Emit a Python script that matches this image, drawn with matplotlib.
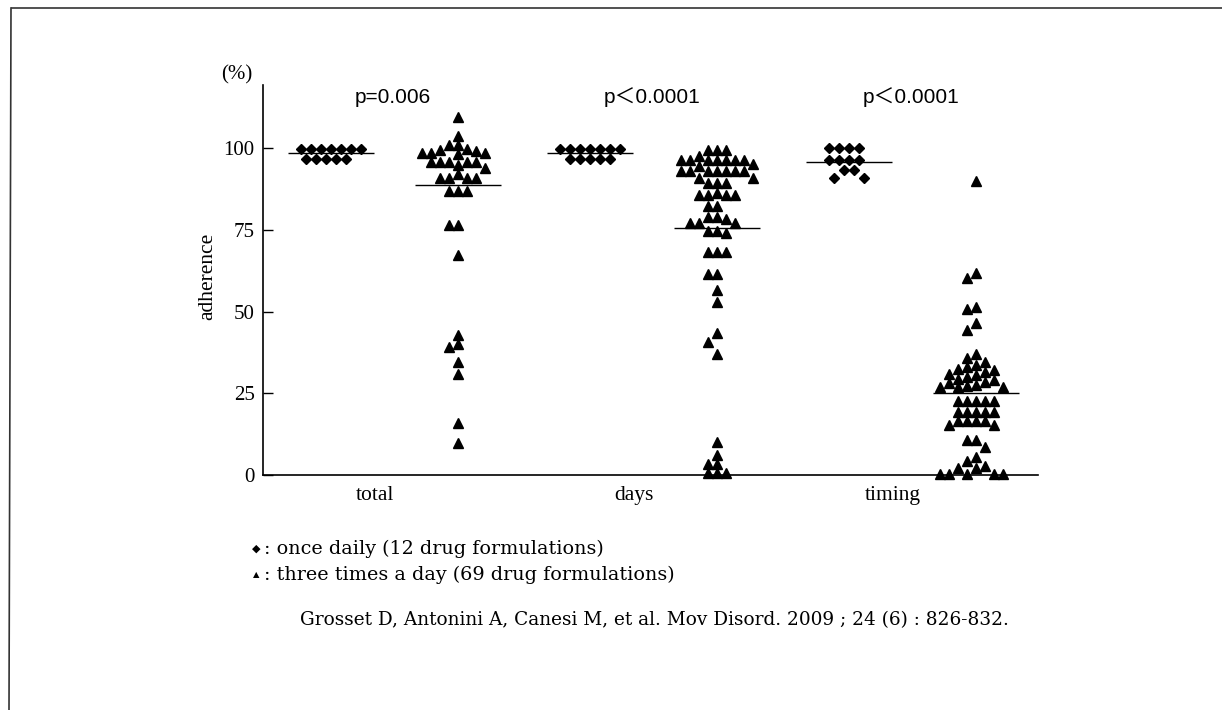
import numpy as np
import matplotlib
matplotlib.use("Agg")
import matplotlib.pyplot as plt
from matplotlib.lines import Line2D

categories = ["total", "days", "timing"]
p_labels = ["p=0.006", "p\uff1c0.0001", "p\uff1c0.0001"]

# once daily (12 drug formulations)
once_total = [99.6, 99.6, 99.6, 99.6, 99.6, 99.6, 99.6, 96.6, 96.6, 96.6, 96.6, 96.6]
once_days = [99.8, 99.8, 99.8, 99.8, 99.8, 99.8, 99.8, 96.6, 96.6, 96.6, 96.6, 96.6]
once_timing = [99.9, 99.9, 99.9, 99.9, 96.3, 96.3, 96.3, 96.3, 93.3, 93.3, 90.7, 90.7]

# three times a day (69 drug formulations)
tid_total = [109.4, 103.7, 100.9, 100.9, 99.5, 98.6, 99.8, 98.6, 98.6, 99.2, 98.2,
             95.8, 95.8, 95.8, 95.8, 95.8, 94.8, 93.8, 92.0, 90.7, 90.7, 90.7, 90.7,
             86.9, 86.9, 86.9, 76.5, 76.5, 67.3, 42.8, 40.1, 39.3, 34.6, 30.9, 16.0, 9.9]
tid_days = [99.4, 99.4, 99.4, 97.5, 96.3, 96.3, 96.3, 96.3, 96.3, 96.3, 96.3, 95.0,
            94.5, 93.1, 93.1, 93.1, 93.1, 93.1, 93.1, 93.1, 90.7, 90.7, 89.2, 89.2, 89.2,
            86.3, 85.6, 85.6, 85.6, 85.6, 82.3, 82.3, 78.8, 78.8, 78.2, 77.0, 77.0, 77.0,
            74.7, 74.7, 74.0, 68.1, 68.1, 68.1, 61.5, 61.5, 56.6, 53.0, 43.3, 40.8, 37.0,
            10.2, 6.1, 3.3, 3.3, 0.5, 0.5, 0.5]
tid_timing = [89.9, 61.9, 60.4, 51.3, 50.7, 46.6, 44.3, 37.0, 35.7, 34.5, 33.6, 33.0,
              32.5, 32.0, 31.5, 31.0, 30.5, 30.0, 29.5, 29.0, 28.5, 28.0, 27.5, 27.2,
              27.0, 27.0, 26.8, 22.6, 22.6, 22.6, 22.6, 22.6, 19.4, 19.4, 19.4, 19.4,
              19.4, 16.6, 16.6, 16.6, 16.6, 15.3, 15.3, 10.7, 10.7, 8.7, 5.4, 4.3, 2.8,
              2.0, 2.0, 0.2, 0.2, 0.2, 0.2, 0.2]

once_means = [98.6, 98.6, 95.8]
tid_means = [88.7, 75.6, 25.1]

once_groups = [once_total, once_days, once_timing]
tid_groups = [tid_total, tid_days, tid_timing]

serif = "Liberation Serif"
wide_serif = "DejaVu Serif"
sans = ["Liberation Sans", "Noto Sans CJK JP"]

fig = plt.figure(figsize=(12.22, 7.10), dpi=100)
ax = fig.add_axes([263 / 1222, 1 - 475 / 710, 775 / 1222, 390 / 710])
ax.set_xlim(-0.432, 2.56)
ax.set_ylim(0, 119.3)

# pixel scales of the axes, used to lay out the dot swarms
bbox = ax.get_window_extent()
px_x = bbox.width / (2.56 + 0.432)
px_y = bbox.height / 119.3


def swarm(vals, step, gap):
    vals = np.asarray(vals, dtype=float)
    placed = []
    offs = np.zeros(len(vals))
    cands = [0] + [s * j for j in range(1, 30) for s in (-1, 1)]
    for i in np.argsort(-vals, kind="stable"):
        y = vals[i] * px_y
        for c in cands:
            x = c * step
            if all((x - a) ** 2 + (y - b) ** 2 >= gap ** 2 for a, b in placed):
                break
        placed.append((x, y))
        offs[i] = x
    return offs / px_x


for i in range(len(categories)):
    xo = i - 0.17
    xt = i + 0.32
    ov = once_groups[i]
    tv = tid_groups[i]
    ax.plot(xo + swarm(ov, 5, 10), ov, linestyle="none", marker="D", ms=5.6,
            color="black", clip_on=False, zorder=3)
    ax.plot(xt + swarm(tv, 9, 8.5), tv, linestyle="none", marker="^", ms=7.5,
            color="black", clip_on=False, zorder=3)
    ax.hlines(once_means[i], xo - 0.166, xo + 0.166, color="black", lw=1, zorder=2)
    ax.hlines(tid_means[i], xt - 0.166, xt + 0.166, color="black", lw=1, zorder=2)
    ax.text(i + 0.07, 115.5, p_labels[i], ha="center", va="center", fontsize=15,
            family=sans)

for side in ["top", "right"]:
    ax.spines[side].set_visible(False)
for side in ["left", "bottom"]:
    ax.spines[side].set_linewidth(1.2)

ax.set_yticks([0, 25, 50, 75, 100])
ax.set_xticks(range(len(categories)))
ax.set_xticklabels(categories)
ax.tick_params(axis="y", direction="in", length=7, width=1, pad=6, labelsize=15)
ax.tick_params(axis="x", length=0, pad=8, labelsize=15.5)
for lab in ax.get_xticklabels() + ax.get_yticklabels():
    lab.set_family(serif)

fig.text(237 / 1222, 1 - 75 / 710, "(%)", ha="center", va="center", fontsize=15,
         family=serif)
fig.text(208 / 1222, 1 - 276 / 710, "adherence", ha="center", va="center",
         rotation=90, fontsize=15.5, family=serif)

# legend
fig.text(256 / 1222, 1 - 549 / 710, "\u25c6", ha="center", va="center", fontsize=8,
         family="DejaVu Sans")
fig.text(256 / 1222, 1 - 575 / 710, "\u25b2", ha="center", va="center", fontsize=6,
         family="DejaVu Sans")
fig.text(264 / 1222, 1 - 549 / 710, ": once daily (12 drug formulations)",
         ha="left", va="center", fontsize=13.8, family=wide_serif)
fig.text(264 / 1222, 1 - 575 / 710, ": three times a day (69 drug formulations)",
         ha="left", va="center", fontsize=13.8, family=wide_serif)

fig.text(300 / 1222, 1 - 620 / 710,
         "Grosset D, Antonini A, Canesi M, et al. Mov Disord. 2009 ; 24 (6) : 826-832.",
         ha="left", va="center", fontsize=13.3, family=wide_serif)

# scanned page frame
fig.add_artist(Line2D([12 / 1222, 1], [1 - 8 / 710, 1 - 8 / 710],
                      transform=fig.transFigure, color="#333333", lw=1.2))
fig.add_artist(Line2D([11 / 1222, 9 / 1222], [1 - 8 / 710, 0],
                      transform=fig.transFigure, color="#333333", lw=1.2))

fig.savefig("out.png", dpi=100)
